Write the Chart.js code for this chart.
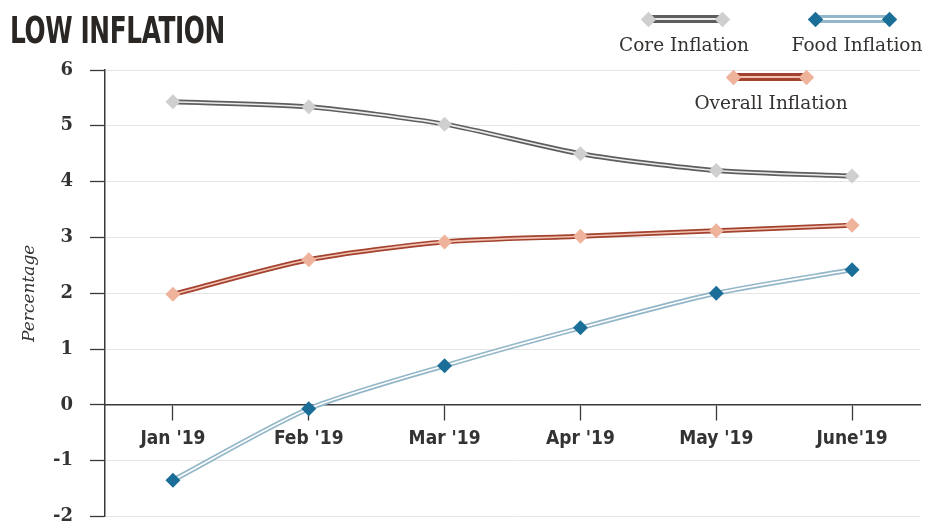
<!DOCTYPE html>
<html>
<head>
<meta charset="utf-8">
<script src="https://cdn.jsdelivr.net/npm/chart.js@4.4.1/dist/chart.umd.min.js"></script>
<style>
  html, body { margin: 0; padding: 0; background: #ffffff; }
  #wrap { position: relative; width: 944px; height: 524px; overflow: hidden; background: #fff; }
  #c { position: absolute; left: 0; top: 0; }
  #title { position: absolute; left: 10px; top: 8px; font-family: 'DejaVu Sans Condensed', 'DejaVu Sans', sans-serif; font-weight: bold; font-size: 38px; color: #2a2624; transform-origin: 0 0; white-space: nowrap; line-height: 44px; letter-spacing: -0.5px; }
  .lg { position: absolute; font-family: 'DejaVu Serif', serif; font-size: 18.5px; color: #353230; white-space: nowrap; transform: translateX(-50%); line-height: 22px; }
  .sym { position: absolute; }
  .sym .line { position: absolute; left: 0; right: 0; top: 50%; height: 8px; margin-top: -4px; }
  .sym .inner { position: absolute; left: 0; right: 0; top: 50%; height: 2px; margin-top: -1px; }
  .sym .dia { position: absolute; width: 11px; height: 11px; top: 50%; margin-top: -5.5px; transform: rotate(45deg); }
</style>
</head>
<body>
<div id="wrap">
  <canvas id="c" width="944" height="524"></canvas>
  <div id="title">LOW INFLATION</div>
  <div id="legend"></div>
</div>
<script>
// ---- data ----
const categories = ["Jan '19", "Feb '19", "Mar '19", "Apr '19", "May '19", "June'19"];
const coreInflation = [5.43, 5.34, 5.03, 4.5, 4.2, 4.1];
const overallInflation = [1.98, 2.6, 2.92, 3.02, 3.12, 3.22];
const foodInflation = [-1.35, -0.07, 0.7, 1.38, 2.0, 2.42];
const yTicks = [-2, -1, 0, 1, 2, 3, 4, 5, 6];
const seriesNames = ["Core Inflation", "Food Inflation", "Overall Inflation"];

// ---- styles ----
const styles = {
  core:    { outer: '#5e5e5e', inner: '#ececec', point: '#cfcfcf' },
  food:    { outer: '#93b7c9', inner: '#ffffff', point: '#1b6e97' },
  overall: { outer: '#a3422e', inner: '#f1c2b2', point: '#efb39c' }
};

function outerSet(data, st) {
  return { data: data, borderColor: st.outer, borderWidth: 5, pointRadius: 0, tension: 0.25, order: 2, fill: false };
}
function innerSet(data, st) {
  return { data: data, borderColor: st.inner, borderWidth: 1.6, pointRadius: 7.5, pointHoverRadius: 7.5,
           pointStyle: 'rectRot', pointBackgroundColor: st.point, pointBorderColor: st.point, pointBorderWidth: 0,
           tension: 0.25, order: 1, fill: false };
}

const darkAxis = '#3a3a3a';

new Chart(document.getElementById('c'), {
  type: 'line',
  data: {
    labels: categories,
    datasets: [
      outerSet(coreInflation, styles.core), innerSet(coreInflation, styles.core),
      outerSet(overallInflation, styles.overall), innerSet(overallInflation, styles.overall),
      outerSet(foodInflation, styles.food), innerSet(foodInflation, styles.food)
    ]
  },
  options: {
    responsive: false,
    animation: false,
    layout: { padding: { top: 70, right: 24, bottom: 7, left: 0 } },
    plugins: { legend: { display: false }, tooltip: { enabled: false }, title: { display: false } },
    scales: {
      x: {
        type: 'category',
        position: { y: 0 },
        offset: true,
        grid: { drawOnChartArea: false, offset: false, tickLength: 15, tickColor: darkAxis, tickWidth: 1.3 },
        border: { color: darkAxis, width: 1.5 },
        ticks: { color: '#333', padding: 8, font: { family: "'Liberation Sans Narrow', 'DejaVu Sans Condensed', sans-serif", weight: 'bold', size: 19 } }
      },
      y: {
        min: -2, max: 6,
        afterBuildTicks: s => { s.ticks = yTicks.map(v => ({ value: v })); },
        afterFit: s => { s.width = 105; s.paddingBottom = 7; s.paddingTop = 0; },
        grid: { color: '#e6e6e6', lineWidth: 1, tickLength: 15, tickColor: darkAxis, tickWidth: 1.3 },
        border: { color: darkAxis, width: 1.5 },
        ticks: { color: '#333', padding: 17, font: { family: "'DejaVu Serif', serif", weight: 'bold', size: 18 } },
        title: { display: true, text: 'Percentage', color: '#333', padding: { top: 19, bottom: 0 },
                 font: { family: "'DejaVu Serif', serif", style: 'italic', size: 17 } }
      }
    }
  }
});

// ---- legend (HTML) ----
const legendItems = [
  { name: seriesNames[0], st: styles.core,    x1: 648, x2: 722, y: 19, tx: 684, ty: 34 },
  { name: seriesNames[1], st: styles.food,    x1: 815, x2: 889, y: 19, tx: 857, ty: 34 },
  { name: seriesNames[2], st: styles.overall, x1: 733, x2: 806, y: 77, tx: 771, ty: 92 }
];
const lg = document.getElementById('legend');
legendItems.forEach(it => {
  const sym = document.createElement('div');
  sym.className = 'sym';
  sym.style.left = it.x1 + 'px';
  sym.style.width = (it.x2 - it.x1) + 'px';
  sym.style.top = (it.y - 10) + 'px';
  sym.style.height = '20px';
  sym.innerHTML =
    '<div class="line" style="background:' + it.st.outer + '"></div>' +
    '<div class="inner" style="background:' + it.st.inner + '"></div>' +
    '<div class="dia" style="left:-5.5px;background:' + it.st.point + '"></div>' +
    '<div class="dia" style="right:-5.5px;background:' + it.st.point + '"></div>';
  lg.appendChild(sym);
  const t = document.createElement('div');
  t.className = 'lg';
  t.style.left = it.tx + 'px';
  t.style.top = it.ty + 'px';
  t.textContent = it.name;
  lg.appendChild(t);
});

// condense title to the reference width
const title = document.getElementById('title');
const w = title.getBoundingClientRect().width;
title.style.transform = 'scaleX(' + (215 / w) + ')';
</script>
</body>
</html>
